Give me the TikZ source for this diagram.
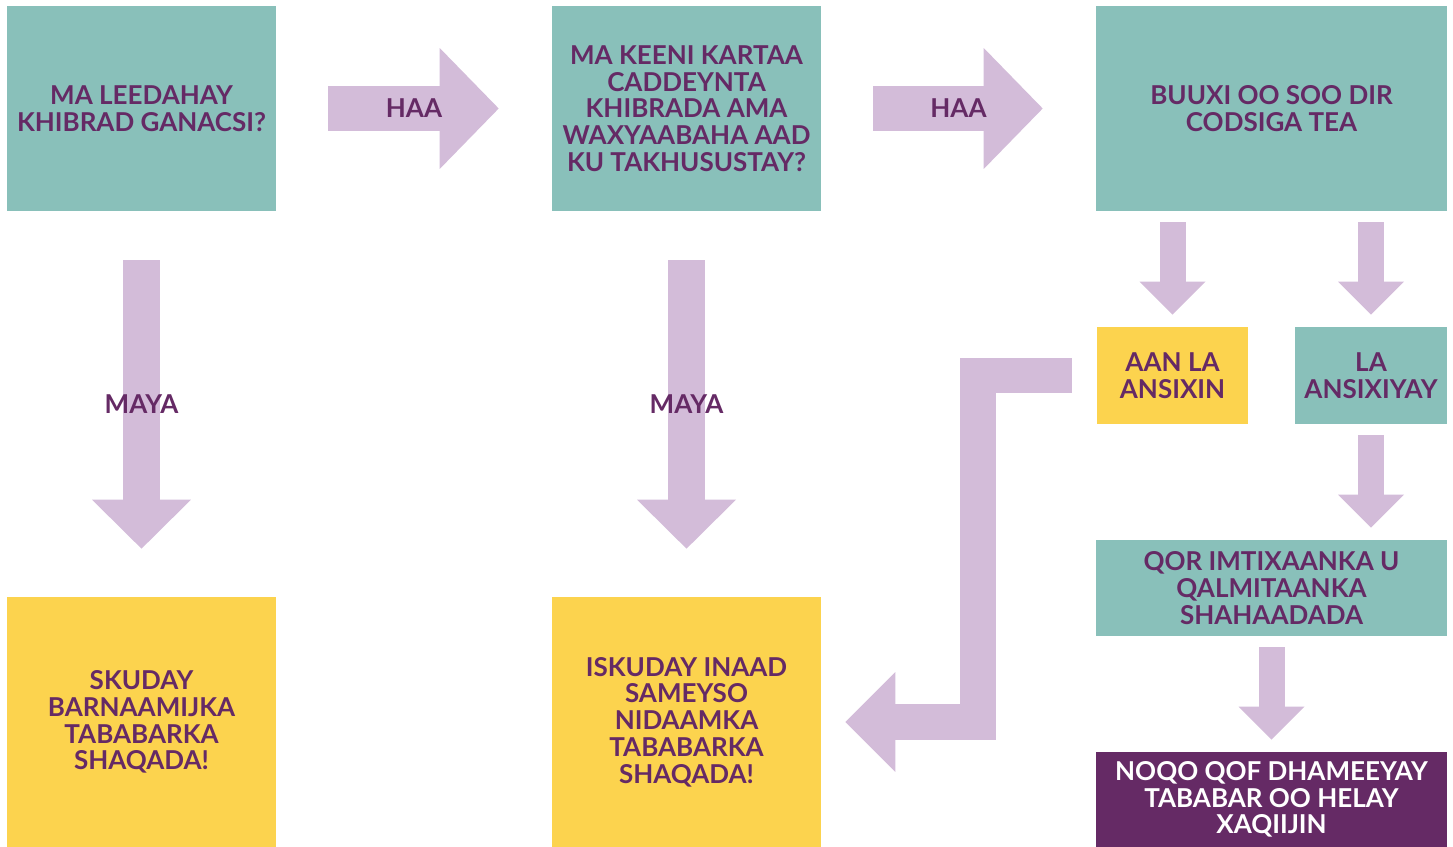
\documentclass[tikz,border=0pt]{standalone}
\usepackage{fontspec}
\setmainfont{Lato}
\usetikzlibrary{arrows.meta,positioning,calc}
\definecolor{tealbox}{HTML}{89C0BA}
\definecolor{sunbox}{HTML}{FCD34E}
\definecolor{plum}{HTML}{652A65}
\definecolor{lilac}{HTML}{D3BCD9}

\begin{document}
\begin{tikzpicture}[x=0.02cm,y=-0.02cm,
  font=\fontsize{14.8}{15.2}\selectfont\bfseries,
  box/.style={inner sep=0pt,align=center,text=plum,minimum width=5.38cm,minimum height=4.1cm},
  qbox/.style={box,fill=tealbox},
  ybox/.style={box,fill=sunbox},
  endbox/.style={box,fill=plum,text=white,minimum width=7.02cm,minimum height=1.9cm},
  wide/.style={arrows={-{Triangle[length=1.18cm,width=2.42cm,line width=0pt]}},draw=lilac,line width=0.9cm,shorten <=1.04cm,shorten >=1.06cm},
  tall/.style={arrows={-{Triangle[length=0.98cm,width=1.98cm,line width=0pt]}},draw=lilac,line width=0.74cm,shorten <=0.98cm,shorten >=0.96cm},
  short/.style={arrows={-{Triangle[length=0.66cm,width=1.32cm,line width=0pt]}},draw=lilac,line width=0.52cm,shorten <=0.22cm,shorten >=0.24cm},
  bent/.style={arrows={-{Triangle[length=1.0cm,width=2.0cm,line width=0pt]}},draw=lilac,line width=0.72cm,line join=miter,shorten <=0.5cm,shorten >=0.48cm},
  lbl/.style={text=plum}]
\useasboundingbox (0,0) rectangle (1453,847);
% top row
\node[qbox] (lead) at (141.5,108.5) {MA LEEDAHAY\\ KHIBRAD GANACSI?};
\node[qbox] (card) at (686.5,108.5) {MA KEENI KARTAA\\ CADDEYNTA\\ KHIBRADA AMA\\ WAXYAABAHA AAD\\ KU TAKHUSUSTAY?};
\node[qbox,minimum width=7.02cm] (fill) at (1271.5,108.5) {BUUXI OO SOO DIR\\ CODSIGA TEA};
\draw[wide] (lead) -- (card) node[lbl,midway] {HAA};
\draw[wide] (card) -- (fill) node[lbl,midway] {HAA};
% no branches
\node[ybox,minimum height=5cm] (skip) at (141.5,722) {SKUDAY\\ BARNAAMIJKA\\ TABABARKA\\ SHAQADA!};
\node[ybox,minimum height=5cm] (join) at (686.5,722) {ISKUDAY INAAD\\ SAMEYSO\\ NIDAAMKA\\ TABABARKA\\ SHAQADA!};
\draw[tall] (lead) -- (skip) node[lbl,midway] {MAYA};
\draw[tall] (card) -- (join) node[lbl,midway] {MAYA};
% application result
\node[ybox,minimum width=3.02cm,minimum height=1.94cm] (deny) at (1172.5,375.5) {AAN LA\\ ANSIXIN};
\node[qbox,minimum width=3.04cm,minimum height=1.94cm] (okay) at (1371,375.5) {LA\\ ANSIXIYAY};
\draw[short] (deny.north |- fill.south) -- (deny.north);
\draw[short] (okay.north |- fill.south) -- (okay.north);
\draw[bent] (deny.west) -| ($(join.east)+(157,0)$) -- (join.east);
% exam and finish
\node[qbox,minimum width=7.02cm,minimum height=1.92cm] (exam) at (1271.5,588) {QOR IMTIXAANKA U\\ QALMITAANKA\\ SHAHAADADA};
\node[endbox] (done) at (1271.5,799.5) {NOQO QOF DHAMEEYAY\\ TABABAR OO HELAY\\ XAQIIJIN};
\draw[short] (okay.south) -- (okay.south |- exam.north);
\draw[short] (exam) -- (done);
\end{tikzpicture}
\end{document}
